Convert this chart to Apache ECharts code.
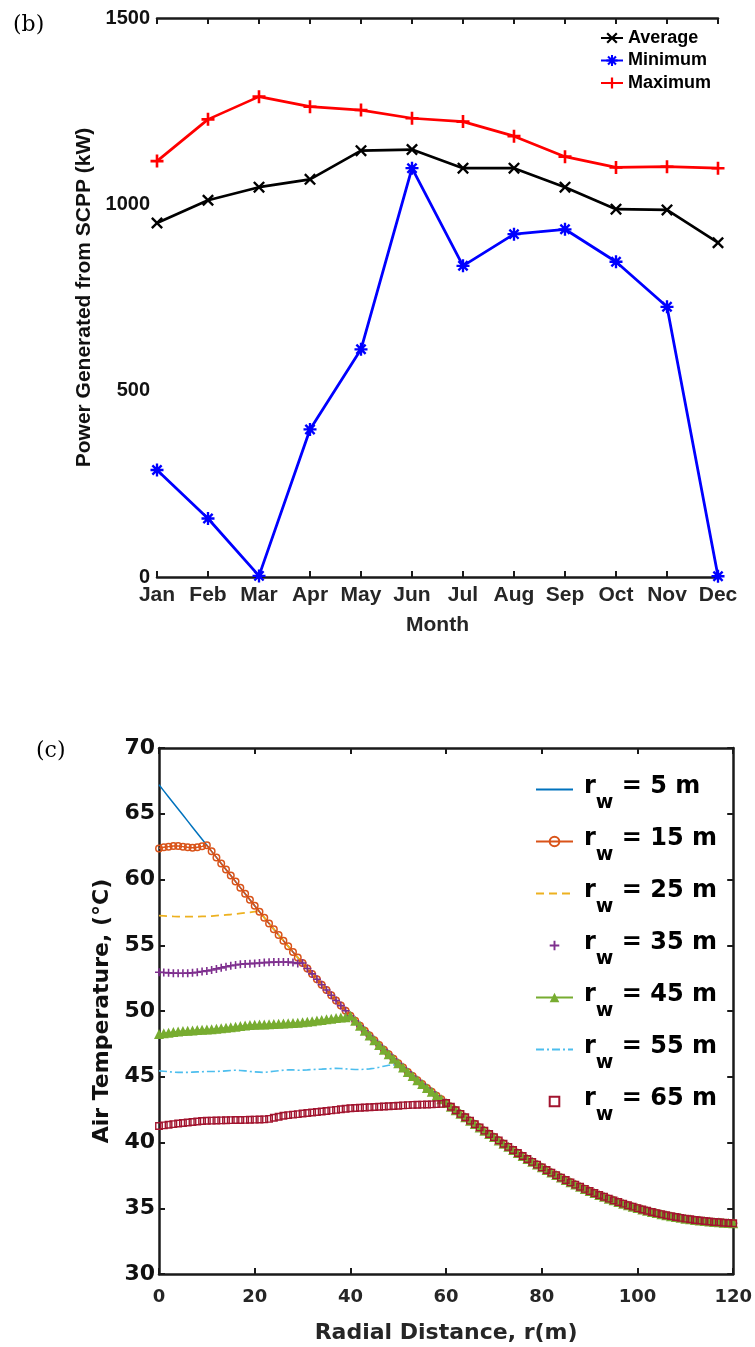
<!DOCTYPE html>
<html>
<head>
<meta charset="utf-8">
<script src="https://cdn.jsdelivr.net/npm/echarts@6/dist/echarts.min.js"></script>
<style>
html, body { margin: 0; padding: 0; background: #fff; }
#chart { width: 755px; height: 1347px; }
</style>
</head>
<body>
<div id="chart"></div>
<script>
// (b) monthly power from the SCPP, kW
var months = ['Jan', 'Feb', 'Mar', 'Apr', 'May', 'Jun', 'Jul', 'Aug', 'Sep', 'Oct', 'Nov', 'Dec'];
var average = [950, 1011, 1046, 1067, 1144, 1147, 1097, 1097, 1046, 987, 985, 897];
var minimum = [287, 157, 3, 396, 611, 1097, 835, 920, 933, 846, 725, 2];
var maximum = [1116, 1228, 1289, 1262, 1253, 1231, 1222, 1183, 1128, 1099, 1101, 1097];

// (c) air temperature vs radial distance
var radius = [0, 1, 2, 3, 4, 5, 6, 7, 8, 9, 10, 11, 12, 13, 14, 15, 16, 17, 18, 19, 20,
  21, 22, 23, 24, 25, 26, 27, 28, 29, 30, 31, 32, 33, 34, 35, 36, 37, 38, 39, 40,
  41, 42, 43, 44, 45, 46, 47, 48, 49, 50, 51, 52, 53, 54, 55, 56, 57, 58, 59, 60,
  61, 62, 63, 64, 65, 66, 67, 68, 69, 70, 71, 72, 73, 74, 75, 76, 77, 78, 79, 80,
  81, 82, 83, 84, 85, 86, 87, 88, 89, 90, 91, 92, 93, 94, 95, 96, 97, 98, 99, 100,
  101, 102, 103, 104, 105, 106, 107, 108, 109, 110, 111, 112, 113, 114, 115, 116, 117, 118, 119, 120];

// rw = 5 m, also the shared tail of every other curve
var temp5 = [67.20, 66.74, 66.28, 65.82, 65.36, 64.90, 64.44, 63.98, 63.52, 63.06,
  62.60, 62.14, 61.68, 61.22, 60.76, 60.30, 59.84, 59.38, 58.92, 58.46,
  58.00, 57.55, 57.10, 56.66, 56.22, 55.78, 55.35, 54.92, 54.49, 54.07,
  53.65, 53.23, 52.82, 52.41, 52.00, 51.60, 51.20, 50.80, 50.41, 50.02,
  49.63, 49.25, 48.87, 48.50, 48.13, 47.77, 47.41, 47.06, 46.71, 46.37,
  46.03, 45.70, 45.37, 45.05, 44.74, 44.44, 44.14, 43.85, 43.56, 43.28,
  43.00, 42.72, 42.45, 42.18, 41.92, 41.66, 41.40, 41.15, 40.90, 40.65,
  40.41, 40.16, 39.91, 39.67, 39.43, 39.20, 38.97, 38.75, 38.53, 38.32,
  38.11, 37.91, 37.71, 37.52, 37.33, 37.15, 36.97, 36.80, 36.63, 36.47,
  36.31, 36.16, 36.01, 35.87, 35.73, 35.60, 35.47, 35.35, 35.23, 35.12,
  35.01, 34.91, 34.81, 34.72, 34.63, 34.55, 34.47, 34.40, 34.33, 34.27,
  34.21, 34.16, 34.11, 34.07, 34.03, 33.99, 33.96, 33.93, 33.90, 33.88, 33.86];

// flat inner parts, before each curve joins temp5
var inner15 = [62.35, 62.45, 62.5, 62.55, 62.55, 62.5, 62.45, 62.42, 62.45, 62.52];
var inner25 = [57.25, 57.23, 57.21, 57.19, 57.18, 57.17, 57.17, 57.17, 57.18, 57.19,
  57.2, 57.22, 57.25, 57.28, 57.31, 57.34, 57.38, 57.42, 57.46, 57.5, 57.55];
var inner35 = [52.95, 52.93, 52.9, 52.88, 52.87, 52.87, 52.88, 52.9, 52.95, 53.0,
  53.05, 53.12, 53.2, 53.28, 53.36, 53.44, 53.5, 53.55, 53.58, 53.6,
  53.62, 53.65, 53.68, 53.7, 53.72, 53.73, 53.73, 53.72, 53.68, 53.62];
var inner45 = [48.25, 48.3, 48.35, 48.4, 48.45, 48.48, 48.5, 48.52, 48.55, 48.58,
  48.6, 48.62, 48.65, 48.68, 48.72, 48.76, 48.8, 48.85, 48.9, 48.93,
  48.95, 48.97, 48.98, 49.0, 49.02, 49.03, 49.05, 49.06, 49.08, 49.1,
  49.14, 49.18, 49.22, 49.27, 49.32, 49.37, 49.42, 49.47, 49.5, 49.53];
var inner55 = [45.45, 45.42, 45.38, 45.35, 45.33, 45.33, 45.33, 45.35, 45.37, 45.38,
  45.4, 45.4, 45.4, 45.42, 45.45, 45.48, 45.5, 45.48, 45.45, 45.4,
  45.37, 45.35, 45.33, 45.37, 45.42, 45.46, 45.5, 45.52, 45.52, 45.5,
  45.5, 45.52, 45.55, 45.57, 45.58, 45.6, 45.62, 45.64, 45.63, 45.6,
  45.57, 45.55, 45.55, 45.57, 45.6, 45.65, 45.72, 45.8, 45.87, 45.9, 45.85];
var inner65 = [41.25, 41.3, 41.35, 41.4, 41.45, 41.48, 41.52, 41.56, 41.6, 41.63,
  41.65, 41.66, 41.67, 41.68, 41.69, 41.7, 41.71, 41.71, 41.72, 41.73,
  41.74, 41.75, 41.76, 41.8, 41.88, 41.96, 42.03, 42.08, 42.12, 42.16,
  42.2, 42.24, 42.28, 42.32, 42.36, 42.4, 42.44, 42.48, 42.53, 42.57,
  42.6, 42.62, 42.64, 42.66, 42.68, 42.7, 42.72, 42.74, 42.76, 42.78,
  42.8, 42.82, 42.84, 42.86, 42.87, 42.88, 42.89, 42.9, 42.92, 42.94];

function joinCurve(inner) {
  return radius.map(function (r, i) {
    return [r, i < inner.length ? inner[i] : temp5[i]];
  });
}

// marker shapes (MATLAB style x, *, +)
var crossPath = 'path://M0,1.4L1.4,0L5,3.6L8.6,0L10,1.4L6.4,5L10,8.6L8.6,10L5,6.4L1.4,10L0,8.6L3.6,5Z';
var plusPath = 'path://M4,0H6V4H10V6H6V10H4V6H0V4H4Z';
var starPath = 'path://M4.1,0H5.9V4.1H10V5.9H5.9V10H4.1V5.9H0V4.1H4.1Z' +
  'M0.8,2.1L2.1,0.8L5,3.7L7.9,0.8L9.2,2.1L6.3,5L9.2,7.9L7.9,9.2L5,6.3L2.1,9.2L0.8,7.9L3.7,5Z';

var chartDom = document.getElementById('chart');
var myChart = echarts.init(chartDom);

var topFont = 'Liberation Sans, Arial, sans-serif';
var botFont = 'DejaVu Sans, sans-serif';

function boxAxis(gridIndex, extra) {
  return Object.assign({
    gridIndex: gridIndex,
    axisLine: { onZero: false, lineStyle: { color: '#1a1a1a', width: 2.5 } },
    axisTick: { inside: true, length: 6, lineStyle: { color: '#1a1a1a', width: 2 } },
    axisLabel: { show: false },
    splitLine: { show: false }
  }, extra);
}

function plainNumber(v) {
  return String(v);
}

var legendRich = {
  r: { fontFamily: botFont, fontWeight: 'bold', fontSize: 24, lineHeight: 24, color: '#000', padding: [0, 0, 6, 6] },
  w: { fontFamily: botFont, fontWeight: 'bold', fontSize: 19, lineHeight: 19, color: '#000', padding: [28, 0, 0, 0] },
  t: { fontFamily: botFont, fontWeight: 'bold', fontSize: 24, lineHeight: 24, color: '#000', padding: [0, 0, 6, 0] }
};

var option = {
  animation: false,
  grid: [
    { left: 157, top: 18, width: 561, height: 559 },
    { left: 159, top: 748, width: 575, height: 526 }
  ],
  graphic: [
    { type: 'text', left: 13, top: 14, style: { text: '(b)', font: '22px "DejaVu Serif", serif', fill: '#000' } },
    { type: 'text', left: 36, top: 740, style: { text: '(c)', font: '22px "DejaVu Serif", serif', fill: '#000' } }
  ],
  xAxis: [
    boxAxis(0, {
      type: 'category', data: months, boundaryGap: false, position: 'bottom',
      axisTick: { inside: true, length: 6, interval: 0, lineStyle: { color: '#1a1a1a', width: 2 } },
      axisLabel: { interval: 0, margin: 8, color: '#262626', fontFamily: topFont, fontWeight: 'bold', fontSize: 21 },
      name: 'Month', nameLocation: 'middle', nameGap: 38,
      nameTextStyle: { color: '#262626', fontFamily: topFont, fontWeight: 'bold', fontSize: 21 }
    }),
    boxAxis(0, {
      type: 'category', data: months, boundaryGap: false, position: 'top',
      axisTick: { inside: true, length: 6, interval: 0, lineStyle: { color: '#1a1a1a', width: 2 } }
    }),
    boxAxis(1, {
      type: 'value', min: 0, max: 120, interval: 20, position: 'bottom',
      axisLabel: { margin: 14, color: '#262626', fontFamily: botFont, fontWeight: 'bold', fontSize: 18 },
      name: 'Radial Distance, r(m)', nameLocation: 'middle', nameGap: 48,
      nameTextStyle: { color: '#262626', fontFamily: botFont, fontWeight: 'bold', fontSize: 22 }
    }),
    boxAxis(1, { type: 'value', min: 0, max: 120, interval: 20, position: 'top' })
  ],
  yAxis: [
    boxAxis(0, {
      type: 'value', min: 0, max: 1500, interval: 500, position: 'left',
      axisLabel: { margin: 7, color: '#111', fontFamily: topFont, fontWeight: 'bold', fontSize: 20, formatter: plainNumber },
      name: 'Power Generated from SCPP (kW)', nameLocation: 'middle', nameGap: 44,
      nameTextStyle: { color: '#111', fontFamily: topFont, fontWeight: 'bold', fontSize: 21 }
    }),
    boxAxis(0, { type: 'value', min: 0, max: 1500, interval: 500, position: 'right' }),
    boxAxis(1, {
      type: 'value', min: 30, max: 70, interval: 5, position: 'left',
      axisLabel: { margin: 4, color: '#111', fontFamily: botFont, fontWeight: 'bold', fontSize: 22 },
      name: 'Air Temperature, (°C)', nameLocation: 'middle', nameGap: 32,
      nameTextStyle: { color: '#111', fontFamily: botFont, fontWeight: 'bold', fontSize: 22 }
    }),
    boxAxis(1, { type: 'value', min: 30, max: 70, interval: 5, position: 'right' })
  ],
  legend: [
    {
      data: ['Average', 'Minimum', 'Maximum'],
      orient: 'vertical', left: 600, top: 28, padding: 0,
      itemWidth: 22, itemHeight: 14, itemGap: 2.5,
      selectedMode: false,
      textStyle: { fontFamily: topFont, fontWeight: 'bold', fontSize: 18, lineHeight: 20, color: '#000' }
    },
    {
      data: [
        { name: 'rw5', itemStyle: { opacity: 0 } },
        { name: 'rw15' },
        { name: 'rw25', itemStyle: { opacity: 0 } },
        { name: 'rw35', lineStyle: { opacity: 0 } },
        { name: 'rw45' },
        { name: 'rw55', itemStyle: { opacity: 0 } },
        { name: 'rw65', lineStyle: { opacity: 0 } }
      ],
      orient: 'vertical', left: 535, top: 766, padding: 0,
      itemWidth: 37, itemHeight: 12, itemGap: 5,
      selectedMode: false,
      formatter: function (name) {
        return '{r|r}{w|w}{t| = ' + name.slice(2) + ' m}';
      },
      textStyle: { rich: legendRich }
    }
  ],
  series: [
    {
      name: 'Average', type: 'line', xAxisIndex: 0, yAxisIndex: 0, data: average,
      symbol: crossPath, symbolSize: 12, clip: false, silent: true,
      lineStyle: { color: '#000', width: 2.7 }, itemStyle: { color: '#000' }
    },
    {
      name: 'Minimum', type: 'line', xAxisIndex: 0, yAxisIndex: 0, data: minimum,
      symbol: starPath, symbolSize: 13, clip: false, silent: true,
      lineStyle: { color: '#0000ff', width: 2.8 }, itemStyle: { color: '#0000ff' }
    },
    {
      name: 'Maximum', type: 'line', xAxisIndex: 0, yAxisIndex: 0, data: maximum,
      symbol: plusPath, symbolSize: 13, clip: false, silent: true,
      lineStyle: { color: '#ff0000', width: 2.7 }, itemStyle: { color: '#ff0000' }
    },
    {
      name: 'rw5', type: 'line', xAxisIndex: 2, yAxisIndex: 2, data: joinCurve([]),
      symbol: 'none', clip: false, silent: true,
      lineStyle: { color: '#0072BD', width: 1.5 }, itemStyle: { color: '#0072BD' }
    },
    {
      name: 'rw15', type: 'line', xAxisIndex: 2, yAxisIndex: 2, data: joinCurve(inner15),
      symbol: 'circle', symbolSize: 6.5, clip: false, silent: true,
      lineStyle: { color: '#D95319', width: 1.5 },
      itemStyle: { color: 'rgba(255,255,255,0)', borderColor: '#D95319', borderWidth: 1.5 }
    },
    {
      name: 'rw25', type: 'line', xAxisIndex: 2, yAxisIndex: 2, data: joinCurve(inner25),
      symbol: 'none', clip: false, silent: true,
      lineStyle: { color: '#EDB120', width: 1.8, type: [8, 5] }, itemStyle: { color: '#EDB120' }
    },
    {
      name: 'rw35', type: 'line', xAxisIndex: 2, yAxisIndex: 2, data: joinCurve(inner35),
      symbol: plusPath, symbolSize: 8, clip: false, silent: true,
      lineStyle: { color: '#7E2F8E', width: 1, opacity: 0 }, itemStyle: { color: '#7E2F8E' }
    },
    {
      name: 'rw45', type: 'line', xAxisIndex: 2, yAxisIndex: 2, data: joinCurve(inner45),
      symbol: 'triangle', symbolSize: 10, clip: false, silent: true,
      lineStyle: { color: '#77AC30', width: 1.5 }, itemStyle: { color: '#77AC30' }
    },
    {
      name: 'rw55', type: 'line', xAxisIndex: 2, yAxisIndex: 2, data: joinCurve(inner55),
      symbol: 'none', clip: false, silent: true,
      lineStyle: { color: '#4DBEEE', width: 1.6, type: [8, 3, 2, 3] }, itemStyle: { color: '#4DBEEE' }
    },
    {
      name: 'rw65', type: 'line', xAxisIndex: 2, yAxisIndex: 2, data: joinCurve(inner65),
      symbol: 'rect', symbolSize: 6.5, clip: false, silent: true,
      lineStyle: { color: '#A2142F', width: 1, opacity: 0 },
      itemStyle: { color: 'rgba(255,255,255,0)', borderColor: '#A2142F', borderWidth: 1.4 }
    }
  ]
};

option && myChart.setOption(option);
</script>
</body>
</html>
